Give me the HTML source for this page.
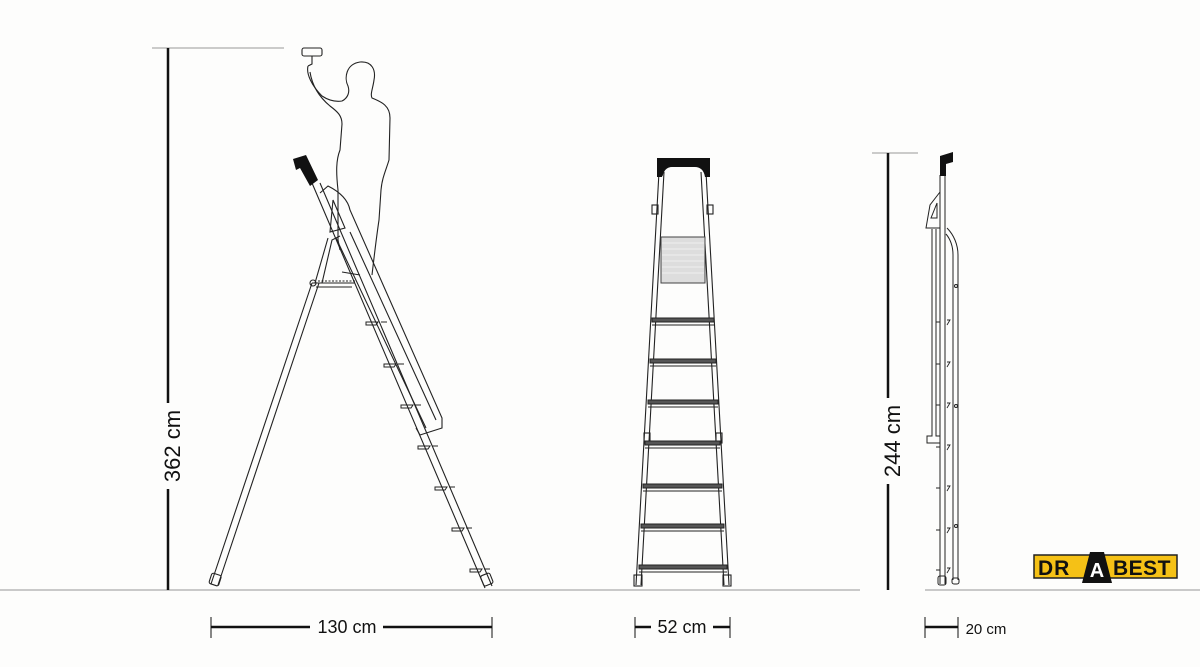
<!DOCTYPE html>
<html><head><meta charset="utf-8"><style>
html,body{margin:0;padding:0;background:#fdfdfc;}
svg{display:block;}
text{font-family:"Liberation Sans",sans-serif;fill:#111;}
</style></head><body>
<svg width="1200" height="667" viewBox="0 0 1200 667" xmlns="http://www.w3.org/2000/svg">
<line x1="0" y1="590" x2="860" y2="590" stroke="#aaa" stroke-width="1.2"/>
<line x1="925" y1="590" x2="1200" y2="590" stroke="#aaa" stroke-width="1.2"/>

<line x1="152" y1="48" x2="284" y2="48" stroke="#999" stroke-width="1"/>
<line x1="168" y1="48" x2="168" y2="403" stroke="#111" stroke-width="2.5"/>
<line x1="168" y1="489" x2="168" y2="590" stroke="#111" stroke-width="2.5"/>
<text x="0" y="0" font-size="22" transform="translate(180,446) rotate(-90)" text-anchor="middle">362 cm</text>

<line x1="211" y1="617" x2="211" y2="638" stroke="#111" stroke-width="1"/>
<line x1="492" y1="617" x2="492" y2="638" stroke="#111" stroke-width="1"/>
<line x1="211" y1="627" x2="310" y2="627" stroke="#111" stroke-width="2.5"/>
<line x1="383" y1="627" x2="492" y2="627" stroke="#111" stroke-width="2.5"/>
<text x="347" y="633" font-size="18" text-anchor="middle">130 cm</text>

<line x1="635" y1="617" x2="635" y2="638" stroke="#111" stroke-width="1"/>
<line x1="730" y1="617" x2="730" y2="638" stroke="#111" stroke-width="1"/>
<line x1="635" y1="627" x2="651" y2="627" stroke="#111" stroke-width="2.5"/>
<line x1="713" y1="627" x2="730" y2="627" stroke="#111" stroke-width="2.5"/>
<text x="682" y="633" font-size="18" text-anchor="middle">52 cm</text>

<line x1="925" y1="617" x2="925" y2="638" stroke="#111" stroke-width="1"/>
<line x1="958" y1="617" x2="958" y2="638" stroke="#111" stroke-width="1"/>
<line x1="925" y1="627" x2="958" y2="627" stroke="#111" stroke-width="2.5"/>
<text x="986" y="634" font-size="15" text-anchor="middle">20 cm</text>

<line x1="872" y1="153" x2="918" y2="153" stroke="#999" stroke-width="1"/>
<line x1="888" y1="153" x2="888" y2="398" stroke="#111" stroke-width="2.5"/>
<line x1="888" y1="484" x2="888" y2="590" stroke="#111" stroke-width="2.5"/>
<text x="0" y="0" font-size="22" transform="translate(900,441) rotate(-90)" text-anchor="middle">244 cm</text>

<g fill="none" stroke="#222" stroke-width="1.1">
<rect x="302" y="48" width="20" height="8" rx="2"/>
<path d="M312,56 L312,64 L308,66"/>
<path d="M308,66 C306,74 312,86 322,96 C328,100 335,102 342,101 C348,98 350,92 348,86 C344,78 346,64 360,62 C372,61 376,70 374,80 C373,88 370,94 372,98 C382,102 390,106 390,118 L389,160 C386,170 382,178 381,190 L379,220 C376,240 374,258 372,275"/>
<path d="M310,72 C312,85 318,96 330,106 C338,112 342,116 342,124 L340,150 C336,160 336,172 338,190 L338,240 L340,250"/>
<path d="M342,272 L360,275"/>
</g>

<g fill="none" stroke="#222" stroke-width="1.1">
<path d="M312,283 L211,584 M319,283 L218,585"/>
<rect x="210" y="574" width="10" height="11" rx="2" transform="rotate(18 215 580)"/>
<path d="M322,283 L332,240 L340,236"/>
<path d="M315,283 L328,238"/>
<line x1="312" y1="283" x2="355" y2="283"/>
<line x1="316" y1="287" x2="352" y2="287"/>
<line x1="318" y1="281" x2="355" y2="281" stroke-dasharray="2,1.5"/>
<circle cx="313" cy="283" r="3"/>
<path d="M312,183 L485,588 M320,183 L492,586"/>
<rect x="482" y="574" width="10" height="11" rx="2" transform="rotate(-22 487 580)"/>
<path d="M320,193 L328,186 C340,192 348,200 350,210 L442,418 L442,428 L420,435 L416,428"/>
<path d="M333,200 L345,228 L330,232 Z"/>
<path d="M336,238 L426,428"/>
<path d="M350,232 L436,420"/>
</g>
<polygon points="293,159 306,155 318,180 310,186 300,168 296,170" fill="#111"/>
<g fill="none" stroke="#222" stroke-width="1">
<path d="M366,322 l12,0 l-2,3 l-10,0z M381,322 l6,0"/>
<path d="M384,364 l12,0 l-2,3 l-10,0z M398,364 l6,0"/>
<path d="M401,405 l12,0 l-2,3 l-10,0z M415,405 l6,0"/>
<path d="M418,446 l12,0 l-2,3 l-10,0z M432,446 l6,0"/>
<path d="M435,487 l12,0 l-2,3 l-10,0z M449,487 l6,0"/>
<path d="M452,528 l12,0 l-2,3 l-10,0z M466,528 l6,0"/>
<path d="M470,569 l12,0 l-2,3 l-10,0z M484,569 l6,0"/>
</g>

<g fill="none" stroke="#222" stroke-width="1.1">
<path d="M659,172 L636,585 M664,172 L641,585"/>
<path d="M706,172 L729,585 M701,172 L724,585"/>
<path d="M662,176 C664,168 668,166 675,166 L695,166 C702,166 705,170 706,176"/>
<rect x="652" y="205" width="6" height="9"/>
<rect x="707" y="205" width="6" height="9"/>
<rect x="644" y="433" width="6" height="10"/>
<rect x="716" y="433" width="6" height="10"/>
<rect x="634" y="575" width="8" height="11"/>
<rect x="723" y="575" width="8" height="11"/>
</g>
<path d="M657,158 L710,158 L710,177 L705,177 C704,170 700,167 695,167 L672,167 C666,167 663,171 662,177 L657,177 Z" fill="#111"/>
<rect x="661" y="237" width="44" height="46" fill="#ddd" stroke="#444" stroke-width="1"/>
<g stroke="#fff" stroke-width="0.6">
<line x1="662" y1="243" x2="704" y2="243"/><line x1="662" y1="249" x2="704" y2="249"/><line x1="662" y1="255" x2="704" y2="255"/><line x1="662" y1="261" x2="704" y2="261"/><line x1="662" y1="267" x2="704" y2="267"/><line x1="662" y1="273" x2="704" y2="273"/>
</g>
<g stroke="#222" stroke-width="1" fill="#555">
<rect x="652" y="318" width="62" height="4"/><line x1="652" y1="325" x2="714" y2="325"/>
<rect x="650" y="359" width="66" height="4"/><line x1="650" y1="366" x2="716" y2="366"/>
<rect x="648" y="400" width="70" height="4"/><line x1="648" y1="407" x2="718" y2="407"/>
<rect x="645" y="441" width="75" height="4"/><line x1="645" y1="448" x2="720" y2="448"/>
<rect x="643" y="484" width="79" height="4"/><line x1="643" y1="491" x2="722" y2="491"/>
<rect x="641" y="524" width="83" height="4"/><line x1="641" y1="531" x2="724" y2="531"/>
<rect x="639" y="565" width="88" height="4"/><line x1="639" y1="572" x2="727" y2="572"/>
</g>

<g fill="none" stroke="#222" stroke-width="1">
<path d="M940,175 L940,584 M945,175 L945,584"/>
<path d="M947,228 C954,235 958,245 958,255 L958,580 M946,234 C951,240 953,248 953,255 L953,580"/>
<rect x="952" y="578" width="7" height="6" rx="2"/>
<rect x="938" y="576" width="8" height="9" rx="2"/>
<path d="M940,192 L930,205 L926,228 L940,228"/>
<path d="M932,229 L932,436 L927,436 L927,443 L940,443 M936,229 L936,436 L940,436"/>
<path d="M937,203 L937,218 L931,218 Z"/>
<g stroke-width="0.9">
<path d="M936,322 l4,0 M947,320 l3,0 l-3,5"/>
<path d="M936,364 l4,0 M947,362 l3,0 l-3,5"/>
<path d="M936,405 l4,0 M947,403 l3,0 l-3,5"/>
<path d="M936,447 l4,0 M947,445 l3,0 l-3,5"/>
<path d="M936,488 l4,0 M947,486 l3,0 l-3,5"/>
<path d="M936,530 l4,0 M947,528 l3,0 l-3,5"/>
<path d="M936,570 l4,0 M947,568 l3,0 l-3,5"/>
</g>
<circle cx="956" cy="286" r="1.5"/><circle cx="956" cy="406" r="1.5"/><circle cx="956" cy="526" r="1.5"/>
</g>
<polygon points="940,156 953,152 953,162 946,164 946,176 940,176" fill="#111"/>

<rect x="1034" y="555" width="143" height="23" fill="#f5c116" stroke="#222" stroke-width="1.5"/>
<polygon points="1082,583 1090,552 1104,552 1112,583" fill="#111"/>
<text x="1038" y="575" font-size="21" font-weight="bold" letter-spacing="1" style="fill:#111">DR</text>
<text x="1097" y="577" font-size="20" font-weight="bold" text-anchor="middle" style="fill:#fff">A</text>
<text x="1113" y="575" font-size="21" font-weight="bold" letter-spacing="0.5" style="fill:#111">BEST</text>
</svg>
</body></html>
